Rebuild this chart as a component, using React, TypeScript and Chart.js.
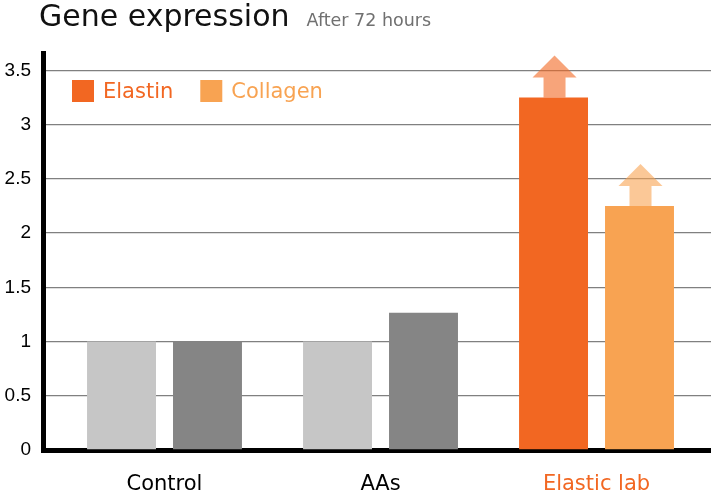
import React, { useEffect, useRef } from 'react';
import { Chart, registerables } from 'chart.js';

Chart.register(...registerables);

// ---- data ----
const categories = ['Control', 'AAs', 'Elastic lab'];
const seriesNames = ['Elastin', 'Collagen'];
const elastinValues = [1, 1, 3.25];
const collagenValues = [1, 1.265, 2.25];
const highlighted = [false, false, true];
const yTickValues = [0, 0.5, 1, 1.5, 2, 2.5, 3, 3.5];
const titleText = 'Gene expression';
const subtitleText = 'After 72 hours';

// ---- styles ----
const ORANGE = '#f26722';
const LIGHT_ORANGE = '#f8a352';
const seriesColors = [ORANGE, LIGHT_ORANGE];
const grayColors = ['#c6c6c6', '#858585'];
const arrowColors = ['rgba(242,103,34,0.6)', 'rgba(248,163,82,0.6)'];
const SANS = '"DejaVu Sans", sans-serif';

const titlePlugin = {
  id: 'titleLine',
  afterDraw(chart: any) {
    const ctx = chart.ctx;
    ctx.save();
    ctx.textBaseline = 'alphabetic';
    ctx.textAlign = 'left';
    ctx.fillStyle = '#111';
    ctx.font = `400 30px ${SANS}`;
    ctx.fillText(titleText, 39, 26);
    const w = ctx.measureText(titleText).width;
    ctx.fillStyle = '#707070';
    ctx.font = `400 17.5px ${SANS}`;
    ctx.fillText(subtitleText, 39 + w + 17, 26);
    ctx.restore();
  },
};

const legendPlugin = {
  id: 'insideLegend',
  afterDatasetsDraw(chart: any) {
    const ctx = chart.ctx;
    const area = chart.chartArea;
    ctx.save();
    ctx.font = `400 21px ${SANS}`;
    ctx.textBaseline = 'middle';
    ctx.textAlign = 'left';
    let x = area.left + 29;
    const top = area.top + 27;
    seriesNames.forEach((name, i) => {
      ctx.fillStyle = seriesColors[i];
      ctx.fillRect(x, top, 22, 22);
      ctx.fillText(name, x + 31, top + 13);
      x += 31 + ctx.measureText(name).width + 27;
    });
    ctx.restore();
  },
};

const arrowPlugin = {
  id: 'upArrows',
  afterDatasetsDraw(chart: any) {
    const ctx = chart.ctx;
    ctx.save();
    chart.data.datasets.forEach((_ds: any, di: number) => {
      const meta = chart.getDatasetMeta(di);
      meta.data.forEach((bar: any, j: number) => {
        if (!highlighted[j]) return;
        const { x, y } = bar.getProps(['x', 'y'], true);
        const cx = x + 1;
        ctx.fillStyle = arrowColors[di];
        ctx.beginPath();
        ctx.moveTo(cx - 11, y);
        ctx.lineTo(cx - 11, y - 20);
        ctx.lineTo(cx - 22, y - 20);
        ctx.lineTo(cx, y - 42);
        ctx.lineTo(cx + 22, y - 20);
        ctx.lineTo(cx + 11, y - 20);
        ctx.lineTo(cx + 11, y);
        ctx.closePath();
        ctx.fill();
      });
    });
    ctx.restore();
  },
};

export default function App() {
  const canvasRef = useRef<HTMLCanvasElement | null>(null);

  useEffect(() => {
    if (!canvasRef.current) return;
    const mk = (vals: number[]) => vals.map((v, i) => ({ x: i, y: v }));
    const chart = new Chart(canvasRef.current, {
      type: 'bar',
      data: {
        datasets: [
          {
            label: seriesNames[0],
            data: mk(elastinValues),
            backgroundColor: highlighted.map((h) => (h ? seriesColors[0] : grayColors[0])),
          },
          {
            label: seriesNames[1],
            data: mk(collagenValues),
            backgroundColor: highlighted.map((h) => (h ? seriesColors[1] : grayColors[1])),
          },
        ],
      } as any,
      options: {
        animation: false,
        responsive: false,
        layout: { padding: { top: 53, left: 0, right: 0, bottom: 0 } },
        datasets: { bar: { categoryPercentage: 0.796, barPercentage: 0.802 } } as any,
        plugins: {
          legend: { display: false },
          title: { display: false },
          tooltip: { enabled: false },
        },
        scales: {
          x: {
            type: 'linear',
            offset: false,
            min: -0.5625,
            max: 2.53,
            afterFit: (s: any) => {
              s.height = 43;
            },
            afterBuildTicks: (s: any) => {
              s.ticks = categories.map((_c, i) => ({ value: i }));
            },
            border: { display: true, color: '#000', width: 5 },
            grid: { display: false, drawTicks: false, offset: false },
            ticks: {
              padding: 22,
              font: { family: SANS, size: 21 },
              color: (c: any) => (highlighted[c.index] ? ORANGE : '#000'),
              callback: (_v: any, i: number) => categories[i],
            },
          },
          y: {
            min: 0,
            max: 3.66,
            afterFit: (s: any) => {
              s.width = 43;
            },
            afterBuildTicks: (s: any) => {
              s.ticks = yTickValues.map((v) => ({ value: v }));
            },
            border: { display: true, color: '#000', width: 5 },
            grid: { color: '#808080', lineWidth: 1.3, drawTicks: false },
            ticks: {
              padding: 12,
              color: '#000',
              font: { family: '"Liberation Sans", Arial, sans-serif', size: 19 },
              callback: (v: any) => String(v),
            },
          },
        } as any,
      },
      plugins: [arrowPlugin, legendPlugin, titlePlugin],
    } as any);
    return () => chart.destroy();
  }, []);

  return (
    <div style={{ position: 'absolute', left: 0, top: 0, width: 711, height: 493, background: '#fff' }}>
      <canvas ref={canvasRef} width={711} height={493} />
    </div>
  );
}
